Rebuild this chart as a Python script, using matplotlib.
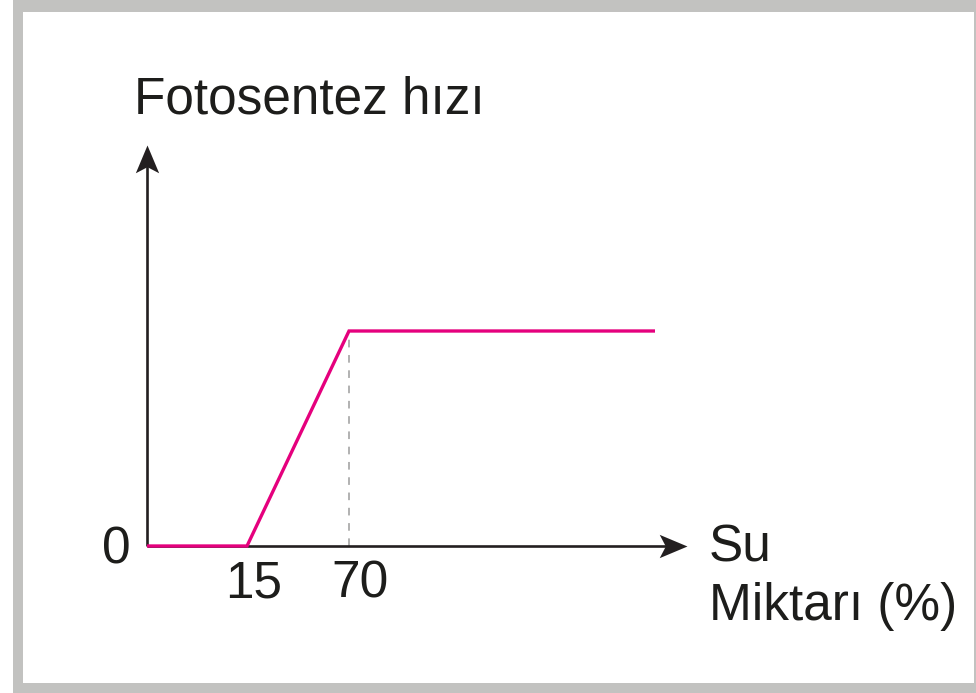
import numpy as np
import matplotlib
matplotlib.use("Agg")
import matplotlib.pyplot as plt
from matplotlib.patches import Rectangle
from matplotlib.path import Path
import matplotlib.transforms as mtransforms

plt.rcParams['font.family'] = ['Liberation Sans', 'DejaVu Sans']

# ---- data ----
water = [0, 15, 70, 100]          # Su Miktarı (%)
rate = [0, 0, 1, 1]               # Fotosentez hızı (relative)
tick_values = [15, 70]
tick_labels = ["15", "70"]
ylabel_text = "Fotosentez hızı"
xlabel_text = "Su\nMiktarı (%)"

# schematic (non-proportional) x scale used by the sketch
SCALE_X = [0, 15, 70, 100]
SCALE_P = [0, 100, 202, 508]

def fwd(x):
    x = np.asarray(x, dtype=float)
    y = np.interp(x, SCALE_X, SCALE_P)
    hi = x > SCALE_X[-1]
    s_hi = (SCALE_P[-1] - SCALE_P[-2]) / (SCALE_X[-1] - SCALE_X[-2])
    y = np.where(hi, SCALE_P[-1] + (x - SCALE_X[-1]) * s_hi, y)
    lo = x < SCALE_X[0]
    s_lo = (SCALE_P[1] - SCALE_P[0]) / (SCALE_X[1] - SCALE_X[0])
    y = np.where(lo, SCALE_P[0] + (x - SCALE_X[0]) * s_lo, y)
    return y

def inv(p):
    p = np.asarray(p, dtype=float)
    x = np.interp(p, SCALE_P, SCALE_X)
    hi = p > SCALE_P[-1]
    s_hi = (SCALE_X[-1] - SCALE_X[-2]) / (SCALE_P[-1] - SCALE_P[-2])
    x = np.where(hi, SCALE_X[-1] + (p - SCALE_P[-1]) * s_hi, x)
    lo = p < SCALE_P[0]
    s_lo = (SCALE_X[1] - SCALE_X[0]) / (SCALE_P[1] - SCALE_P[0])
    x = np.where(lo, SCALE_X[0] + (p - SCALE_P[0]) * s_lo, x)
    return x

W, H = 976, 693
fig = plt.figure(figsize=(W / 100, H / 100), dpi=100)
fig.patch.set_facecolor('white')

# gray frame
gray = '#c2c2c0'
fig.patches.append(Rectangle((13 / W, 0), (W - 13) / W, 1, transform=fig.transFigure,
                             facecolor=gray, edgecolor='none', zorder=-10))
fig.patches.append(Rectangle((23 / W, (H - 683) / H), (974 - 23) / W, (683 - 12) / H,
                             transform=fig.transFigure, facecolor='white',
                             edgecolor='none', zorder=-9))

# axes: origin at (147,546) px, extends to arrow tips
x0, y0 = 147, 546
x1, y1 = 687, 145
ax = fig.add_axes([x0 / W, (H - y0) / H, (x1 - x0) / W, (y0 - y1) / H])
ax.set_facecolor('none')
ax.set_xscale('function', functions=(fwd, inv))
ax.set_xlim(0, float(inv(x1 - x0)))
ax.set_ylim(0, (y0 - y1) / (y0 - 331))

for s in ax.spines.values():
    s.set_visible(False)
ax.set_xticks([])
ax.set_yticks([])

# axes lines with arrows
axis_color = '#231f20'
ax.plot([0, 0.97], [0, 0], transform=ax.transAxes, color=axis_color, lw=1.9,
        clip_on=False, solid_capstyle='butt', zorder=2)
ax.plot([0, 0], [0, 0.96], transform=ax.transAxes, color=axis_color, lw=1.9,
        clip_on=False, solid_capstyle='butt', zorder=2)

# concave arrow head marker (tip at marker origin)
head = Path([(0, 0), (-1.0, 0.42), (-0.78, 0), (-1.0, -0.42), (0, 0)],
            [Path.MOVETO, Path.LINETO, Path.LINETO, Path.LINETO, Path.CLOSEPOLY])
head_up = head.transformed(mtransforms.Affine2D().rotate_deg(90))
ax.plot([1], [0], transform=ax.transAxes, marker=head, markersize=40,
        color=axis_color, markeredgewidth=0, clip_on=False, zorder=3)
ax.plot([0], [1], transform=ax.transAxes, marker=head_up, markersize=40,
        color=axis_color, markeredgewidth=0, clip_on=False, zorder=3)

# dashed guide at the saturation point
ax.plot([water[2], water[2]], [0, rate[2]], color='#9d9d9c', lw=1.1,
        linestyle=(0, (5, 5)), zorder=1)

# main curve
ax.plot(water, rate, color='#e5007d', lw=2.4, solid_joinstyle='miter',
        solid_capstyle='butt', zorder=4, clip_on=False)

# tick labels
offsets = [7, 11]
for v, lab, dx in zip(tick_values, tick_labels, offsets):
    ax.annotate(lab, xy=(v, 0), xycoords=('data', 'axes fraction'),
                xytext=(dx, -51), textcoords='offset pixels',
                ha='center', va='baseline', fontsize=37, color='#1d1d1b')
ax.annotate("0", xy=(0, 0), xycoords='axes fraction', xytext=(-16, -17),
            textcoords='offset pixels', ha='right', va='baseline',
            fontsize=37, color='#1d1d1b')

# axis titles
fig.text(134 / W, (H - 113) / H, ylabel_text, ha='left', va='baseline',
         fontsize=37, color='#1d1d1b')
lines = xlabel_text.split("\n")
fig.text(709 / W, (H - 562) / H, lines[0], ha='left', va='baseline',
         fontsize=37, color='#1d1d1b')
fig.text(709 / W, (H - 620) / H, lines[1], ha='left', va='baseline',
         fontsize=37, color='#1d1d1b')

fig.savefig('out.png', dpi=100, facecolor='white')
